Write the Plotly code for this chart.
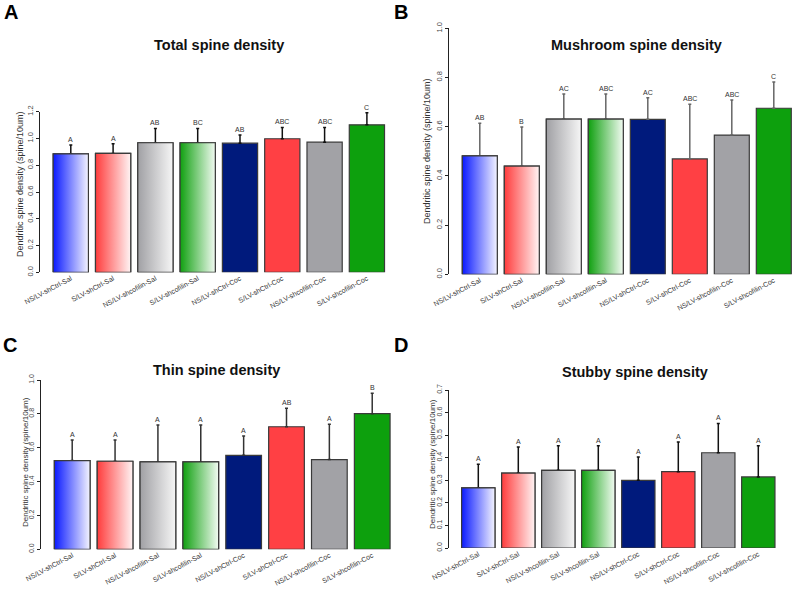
import plotly.graph_objects as go

W, H = 793, 594

categories = ["NS/LV-shCtrl-Sal", "S/LV-shCtrl-Sal", "NS/LV-shcofilin-Sal", "S/LV-shcofilin-Sal",
              "NS/LV-shCtrl-Coc", "S/LV-shCtrl-Coc", "NS/LV-shcofilin-Coc", "S/LV-shcofilin-Coc"]

total_mean = [0.885, 0.888, 0.968, 0.968, 0.965, 0.998, 0.972, 1.102]
total_err = [0.067, 0.072, 0.107, 0.107, 0.060, 0.084, 0.110, 0.090]
total_letters = ["A", "A", "AB", "BC", "AB", "ABC", "ABC", "C"]

mush_mean = [0.481, 0.440, 0.631, 0.631, 0.630, 0.469, 0.566, 0.675]
mush_err = [0.133, 0.159, 0.102, 0.102, 0.088, 0.222, 0.143, 0.107]
mush_letters = ["AB", "B", "AC", "ABC", "AC", "ABC", "ABC", "C"]

thin_mean = [0.524, 0.520, 0.516, 0.516, 0.555, 0.724, 0.530, 0.801]
thin_err = [0.122, 0.126, 0.218, 0.218, 0.114, 0.109, 0.208, 0.120]
thin_letters = ["A", "A", "A", "A", "A", "AB", "A", "B"]

stub_mean = [0.266, 0.332, 0.344, 0.344, 0.300, 0.338, 0.422, 0.315]
stub_err = [0.105, 0.116, 0.109, 0.109, 0.103, 0.132, 0.130, 0.138]
stub_letters = ["A", "A", "A", "A", "A", "A", "A", "A"]

titles = ["Total spine density", "Mushroom spine density", "Thin spine density", "Stubby spine density"]
panel_letters = ["A", "B", "C", "D"]
y_title = "Dendritic spine density (spine/10um)"

# styles
solid_colors = ["#0a1aff", "#ff3c3c", "#a0a0a4", "#10a010", "#001a7c", "#ff4044", "#a2a2a6", "#0da00d"]
gradients = [
    [[0, "#0a1aff"], [1, "#f4f4ff"]],
    [[0, "#ff3c3c"], [1, "#fff4f4"]],
    [[0, "#a0a0a4"], [1, "#f6f6f6"]],
    [[0, "#10a010"], [1, "#f2fbf2"]],
]
outline = "#3a3a3a"
FONT = "Liberation Sans, Arial, sans-serif"
BW = 0.833

# panel geometry in pixels: axis x, pitch, bar1 centre, right edge, y0 px, ytop px, ymax, dtick
panels = [
    dict(mean=total_mean, err=total_err, letters=total_letters, ax=40, pitch=42.3, c0=70.8, right=392,
         y0=272.3, y1=111.7, ymax=1.2, dtick=0.2, ecol="#111111", tfont=7.5, atitle=(20, 184), afont=9,
         title=(219, 45), plabel=(11, 12)),
    dict(mean=mush_mean, err=mush_err, letters=mush_letters, ax=449, pitch=42.0, c0=479.8, right=793,
         y0=274.3, y1=28.3, ymax=1.0, dtick=0.2, ecol="#666666", tfont=7.5, atitle=(427, 151), afont=9,
         title=(636, 45), plabel=(401, 12)),
    dict(mean=thin_mean, err=thin_err, letters=thin_letters, ax=40.7, pitch=42.86, c0=72.2, right=395,
         y0=549.3, y1=380, ymax=1.0, dtick=0.2, ecol="#333333", tfont=7, atitle=(25, 462), afont=8,
         title=(216, 370), plabel=(10, 345)),
    dict(mean=stub_mean, err=stub_err, letters=stub_letters, ax=449, pitch=40.0, c0=478.3, right=785,
         y0=548, y1=390, ymax=0.7, dtick=0.1, ecol="#111111", tfont=7, atitle=(432, 464), afont=8,
         title=(635, 372), plabel=(401, 345)),
]

fig = go.Figure()
layout = dict(width=W, height=H, margin=dict(l=0, r=0, t=0, b=0, autoexpand=False), paper_bgcolor="white",
              plot_bgcolor="white", showlegend=False, font=dict(family=FONT))
annotations = []
idx = list(range(len(categories)))

for k, p in enumerate(panels):
    sfx = "" if k == 0 else str(k + 1)
    xa, ya = "x" + sfx, "y" + sfx
    lo = -(p["c0"] - p["ax"]) / p["pitch"]
    hi = lo + (p["right"] - p["ax"]) / p["pitch"]
    layout["xaxis" + sfx] = dict(domain=[p["ax"] / W, p["right"] / W], range=[lo, hi], anchor=ya,
                                 tickvals=idx, ticktext=categories, tickangle=-28, showline=False,
                                 showgrid=False, zeroline=False, ticks="", automargin=False,
                                 tickfont=dict(size=7, color="#333333", family=FONT))
    layout["yaxis" + sfx] = dict(domain=[1 - p["y0"] / H, 1 - p["y1"] / H], range=[0, p["ymax"]],
                                 anchor=xa, dtick=p["dtick"], tickformat=".1f", tickangle=-90,
                                 showline=True, linecolor="#222222", linewidth=1, ticks="outside",
                                 ticklen=3, tickcolor="#222222", showgrid=False, zeroline=False,
                                 automargin=False,
                                 tickfont=dict(size=p["tfont"], color="#444444", family=FONT))
    fig.add_trace(go.Bar(x=idx, y=p["mean"], width=BW, xaxis=xa, yaxis=ya,
                         marker=dict(color=solid_colors, line=dict(color=outline, width=1.2)),
                         error_y=dict(type="data", symmetric=False, array=p["err"],
                                      arrayminus=[0] * len(idx), color=p["ecol"], thickness=1.5,
                                      width=1.5),
                         hoverinfo="skip"))
    for i in range(4):
        v = p["mean"][i]
        fig.add_trace(go.Scatter(x=[i - BW / 2, i + BW / 2, i + BW / 2, i - BW / 2, i - BW / 2],
                                 y=[0, 0, v, v, 0], xaxis=xa, yaxis=ya, mode="lines",
                                 fill="toself",
                                 fillgradient=dict(type="horizontal", colorscale=gradients[i]),
                                 line=dict(color=outline, width=1.2), hoverinfo="skip"))
    for i in idx:
        annotations.append(dict(x=i, y=p["mean"][i] + p["err"][i], xref=xa, yref=ya,
                                text=p["letters"][i], showarrow=False, yanchor="bottom", yshift=0,
                                font=dict(size=7, color="#333333", family=FONT)))
    annotations.append(dict(x=p["title"][0] / W, y=1 - p["title"][1] / H, xref="paper", yref="paper",
                            text="<b>" + titles[k] + "</b>", showarrow=False, xanchor="center",
                            yanchor="middle", font=dict(size=14.5, color="#111111", family=FONT)))
    annotations.append(dict(x=p["plabel"][0] / W, y=1 - p["plabel"][1] / H, xref="paper", yref="paper",
                            text="<b>" + panel_letters[k] + "</b>", showarrow=False, xanchor="center",
                            yanchor="middle", font=dict(size=20, color="#000000", family=FONT)))
    annotations.append(dict(x=p["atitle"][0] / W, y=1 - p["atitle"][1] / H, xref="paper", yref="paper",
                            text=y_title, textangle=-90, showarrow=False, xanchor="center",
                            yanchor="middle", font=dict(size=p["afont"], color="#333333", family=FONT)))

layout["annotations"] = annotations
fig.update_layout(**layout)
fig.write_html("out.html", config={"displayModeBar": False, "staticPlot": True},
               post_script="document.body.style.margin='0';document.body.style.overflow='hidden';")
